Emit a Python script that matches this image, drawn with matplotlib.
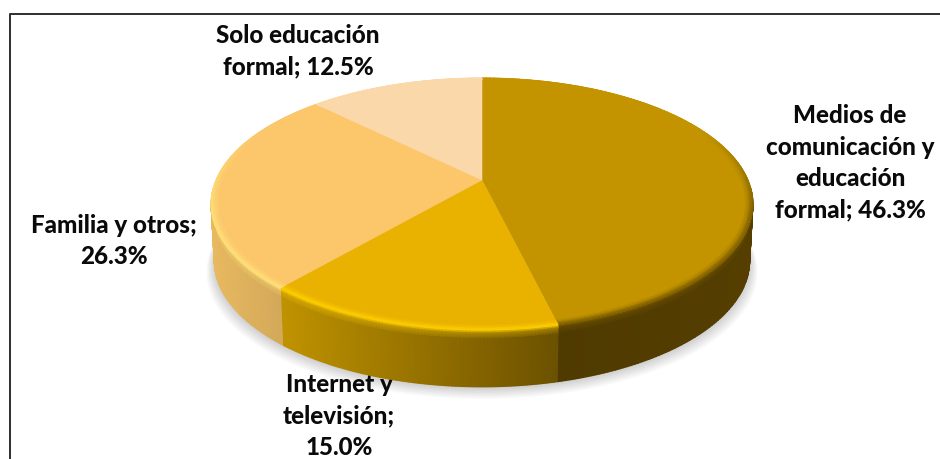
#!/usr/bin/env python3
"""3D style pie chart with perspective, drawn from the slice values."""

import matplotlib
matplotlib.use('Agg')
import matplotlib.pyplot as plt
import numpy as np
from matplotlib.colors import to_rgb

plt.rcParams['font.family'] = ['Lato', 'DejaVu Sans']

# Data, clockwise from the top
categories = ['Medios de\ncomunicación y\neducación\nformal', 'Internet y\ntelevisión;\n', 'Familia y otros;\n', 'Solo educación\nformal']
values = [46.3, 15.0, 26.3, 12.5]
top_colors = ['#C39400', '#EAB200', '#FCC76B', '#FBD8A9']

# Wall colour at the left and right end of each visible slice
wall_left = ['#4F3A00', '#C09300', '#E8B95F', '#FBD8A9']
wall_right = ['#553E00', '#6C5100', '#D3A95A', '#FBD8A9']
# Colour of the rim where the top meets the wall
rim_colors = ['#7A5C00', '#FFD000', '#FFE27A', '#FBD8A9']

# Pie geometry in pixels
CX, CY = 482, 180
A, B, P = 266, 121.4, 0.19
DEPTH = 57


def project(theta, r=1.0):
    d = 1 + P * r * np.cos(theta)
    return CX + A * r * np.sin(theta) / d, CY - B * r * np.cos(theta) / d


def blend(c1, c2, t):
    return np.asarray(c1) * (1 - t) + np.asarray(c2) * t


fig = plt.figure(figsize=(9.4, 4.59), dpi=100, facecolor='white')
ax = fig.add_axes([0, 0, 1, 1])

# Angles from the values
edges = np.radians(np.concatenate([[0], np.cumsum(values)]) / np.sum(values) * 360)

# Soft shadow under the pie
t = np.linspace(0, 2 * np.pi, 240)
sx, sy = project(t)
for k in range(1, 9):
    ax.fill(CX + (sx - CX) * 0.985 + np.sign(sx - CX) * k * 1.1 * np.abs(np.sin(t)),
            sy + DEPTH + k * 1.5, color='black', alpha=0.022, lw=0, zorder=1)

# Labels, under the pie like in the original
label_style = dict(fontsize=17.4, fontweight='black', color='#0a0a0a', ha='center',
                   va='center', linespacing=1.44, zorder=2)
ax.text(850, 163, f'{categories[0]}; {values[0]:.1f}%', **label_style)
ax.text(339, 416, f'{categories[1]}{values[1]:.1f}%', **label_style)
ax.text(114, 241, f'{categories[2]}{values[2]:.1f}%', **label_style)
ax.text(298, 51, f'{categories[3]}; {values[3]:.1f}%', **label_style)

# Walls: one gouraud mesh per visible slice
front_start, front_end = np.radians(94), np.radians(266)
for i in range(3):
    t0 = max(edges[i], front_start)
    t1 = min(edges[i + 1], front_end)
    th = np.linspace(t0, t1, 90)
    x, y = project(th)
    frac = (x - x.min()) / (x.max() - x.min())
    wall = np.outer(1 - frac, to_rgb(wall_left[i])) + np.outer(frac, to_rgb(wall_right[i]))
    rim = np.array(to_rgb(rim_colors[i]))
    drops = [0, 3, 9, DEPTH]
    X = np.array([CX + (x - CX) * (1 - 0.012 * d / DEPTH) for d in drops])
    Y = np.array([y + d for d in drops])
    C = np.array([np.tile(rim, (th.size, 1)), blend(rim, wall, 0.6), wall, wall])
    ax.pcolormesh(X, Y, C, shading='gouraud', zorder=3, rasterized=True)

# Top faces
for i in range(4):
    th = np.linspace(edges[i], edges[i + 1], 160)
    x, y = project(th)
    ax.fill(np.r_[CX, x], np.r_[CY, y], facecolor=top_colors[i],
            edgecolor=top_colors[i], lw=0.4, zorder=4)

# Bevel round the rim of the top face, fading towards the back
for i in range(4):
    th = np.linspace(edges[i], edges[i + 1], 160)
    top = np.array(to_rgb(top_colors[i]))
    rim = np.array(to_rgb(rim_colors[i]))
    if i == 0:
        strength = np.clip((np.degrees(th) - 65) / 40, 0, 1)
    else:
        strength = np.clip((295 - np.degrees(th)) / 40, 0, 1)
    X, Y = [], []
    for r in [0.972, 0.988, 1.0]:
        px, py = project(th, r)
        X.append(px)
        Y.append(py)
    edge = np.outer(1 - strength, top) + np.outer(strength, rim)
    C = np.array([np.tile(top, (th.size, 1)), blend(top, edge, 0.5), edge])
    ax.pcolormesh(np.array(X), np.array(Y), C, shading='gouraud', zorder=5, rasterized=True)

# Chart frame: only the top and left lines show in the picture
ax.plot([9.5, 9.5, 940], [459, 13.5, 13.5], color='#2e2e2e', lw=1.4, zorder=6)

ax.set_xlim(0, 940)
ax.set_ylim(459, 0)
ax.axis('off')

fig.savefig('out.png', dpi=100, facecolor='white')
